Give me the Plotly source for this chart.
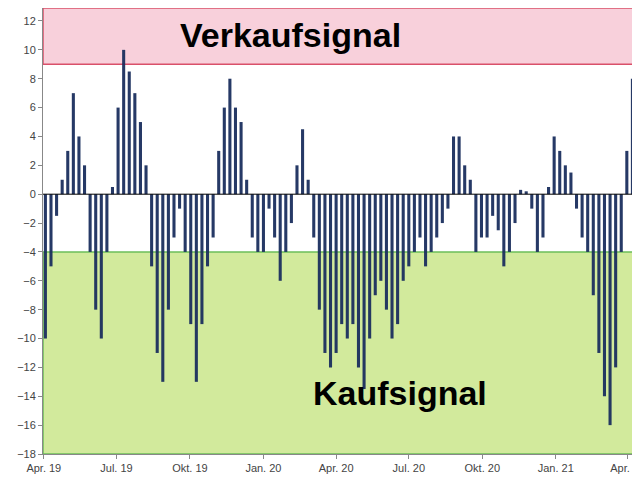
import plotly.graph_objects as go
import pandas as pd

dates = pd.date_range("2019-04-03", periods=106, freq="7D")
values = [-10,-5,-1.5,1,3,7,4,2,-4,-8,-10,-4,0.5,6,10,8.5,7,5,2,-5,-11,-13,-8,-3,-1,-4,-9,-13,-9,-5,-3,
          3,6,8,6,5,1,-3,-4,-4,-1,-3,-6,-4,-2,2,4.5,1,-3,-8,-11,-12,-11,-9,-10,-9,-12,-13.5,-10,-7,-6,-8,-10,
          -9,-6,-5,-4,-3,-5,-4,-3,-2,-1,4,4,2,1,-4,-3,-3,-1.5,-2.5,-5,-4,-2,0.3,0.2,-1,-4,-3,0.5,4,3,2,1.5,
          -1,-3,-4,-7,-11,-14,-16,-12,-4,3,8]
tickvals = ["2019-04-01","2019-07-01","2019-10-01","2020-01-01","2020-04-01","2020-07-01","2020-10-01","2021-01-01","2021-04-01"]
ticktext = ["Apr. 19","Jul. 19","Okt. 19","Jan. 20","Apr. 20","Jul. 20","Okt. 20","Jan. 21","Apr. 21"]

fig = go.Figure(go.Bar(x=dates, y=values, marker=dict(color="#1b2f5e", line=dict(width=0)), opacity=0.95))
fig.add_shape(type="rect", xref="paper", yref="y", x0=0, x1=1, y0=9, y1=12.9, fillcolor="rgba(240,150,175,0.45)",
              line=dict(color="#d9506a", width=1.5), layer="below")
fig.add_shape(type="rect", xref="paper", yref="y", x0=0, x1=1, y0=-18, y1=-4, fillcolor="rgba(180,220,90,0.6)",
              line=dict(color="#6cbf5a", width=1.5), layer="below")
fig.add_shape(type="line", xref="paper", yref="y", x0=0, x1=1, y0=0, y1=0, line=dict(color="black", width=1))
fig.add_annotation(x=0.41, y=11.0, xref="paper", yref="y", text="<b>Verkaufsignal</b>", showarrow=False,
                   font=dict(family="Liberation Sans", size=34, color="black"))
fig.add_annotation(x=0.74, y=-13.8, xref="paper", yref="y", text="<b>Kaufsignal</b>", showarrow=False,
                   font=dict(family="Liberation Sans", size=34, color="black"))
fig.update_layout(width=640, height=479, margin=dict(l=35, r=2, t=0, b=33), plot_bgcolor="white",
                  paper_bgcolor="white", showlegend=False, bargap=0.45,
                  font=dict(family="Liberation Sans", size=11, color="#444"))
fig.update_xaxes(range=["2019-03-31", "2021-04-24"], tickvals=tickvals, ticktext=ticktext, showgrid=False,
                 showline=True, linecolor="#888", ticks="outside", ticklen=4, tickcolor="#888", automargin=False)
fig.update_yaxes(range=[-18, 12.9], tickvals=list(range(-18, 13, 2)), showgrid=False, zeroline=False,
                 showline=True, linecolor="#888", ticks="outside", ticklen=4, tickcolor="#888", automargin=False)
fig.write_html("out.html")
